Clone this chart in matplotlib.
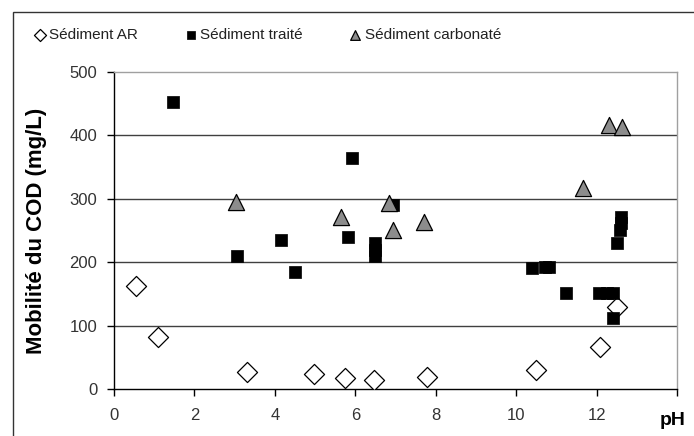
#!/usr/bin/env python3
"""COD mobility vs pH for the three sediment types (scatter, Excel-like look)."""
import matplotlib
matplotlib.use("Agg")
import matplotlib.pyplot as plt
from matplotlib.patches import Rectangle

plt.rcParams["font.family"] = ["Liberation Sans", "DejaVu Sans"]

# Sédiment AR (open diamonds)
ar_ph = [0.55, 1.10, 3.30, 4.97, 5.75, 6.46, 7.78, 10.49, 12.09, 12.50]
ar_cod = [163, 82, 27, 24, 17, 14, 19, 30, 66, 130]

# Sédiment traité (black squares)
tr_ph = [1.46, 5.91, 4.15, 5.83, 3.07, 4.49, 6.49, 6.49, 6.49, 6.95,
         10.39, 10.72, 10.82, 11.24, 12.07, 12.25, 12.40, 12.40,
         12.60, 12.60, 12.58, 12.50]
tr_cod = [453, 364, 235, 240, 210, 184, 230, 220, 210, 290,
          191, 193, 193, 151, 152, 152, 152, 112,
          272, 262, 250, 231]

# Sédiment carbonaté (grey triangles)
ca_ph = [3.03, 5.64, 6.84, 6.95, 7.72, 11.67, 12.32, 12.64]
ca_cod = [295, 272, 294, 250, 263, 317, 416, 413]

xticks = [0, 2, 4, 6, 8, 10, 12, 14]
xticklabels = ["0", "2", "4", "6", "8", "10", "12", ""]
yticks = [0, 100, 200, 300, 400, 500]

fig = plt.figure(figsize=(6.94, 4.36), dpi=100)
ax = fig.add_axes([114 / 694, 1 - 389 / 436, 563 / 694, 317 / 436])

# outer chart-area frame (runs off the right/bottom edge of the picture)
fig.add_artist(Rectangle((13 / 694, -0.2), 1.2, 1.2 - 12 / 436, transform=fig.transFigure,
                         fill=False, edgecolor="#333333", linewidth=1.0))

ax.scatter(ar_ph, ar_cod, marker="D", s=105, facecolor="white", edgecolor="black",
           linewidths=0.9, label="Sédiment AR", zorder=3)
ax.scatter(tr_ph, tr_cod, marker="s", s=78, facecolor="black", edgecolor="black",
           linewidths=0.5, label="Sédiment traité", zorder=4)
ax.scatter(ca_ph, ca_cod, marker="^", s=135, facecolor="#8c8c8c", edgecolor="black",
           linewidths=0.9, label="Sédiment carbonaté", zorder=5)

ax.set_xlim(0, 14); ax.set_ylim(0, 500)
ax.set_xticks(xticks); ax.set_xticklabels(xticklabels)
ax.set_yticks(yticks)
for y in yticks[1:-1]:
    ax.axhline(y, color="#404040", linewidth=1.0, zorder=1)

for side in ("left", "bottom"):
    ax.spines[side].set_color("black"); ax.spines[side].set_linewidth(1.0)
for side in ("top", "right"):
    ax.spines[side].set_color("#a0a0a0"); ax.spines[side].set_linewidth(1.0)

ax.tick_params(axis="x", direction="out", length=5, width=1, pad=9,
               labelsize=12, labelcolor="#333333")
ax.tick_params(axis="y", direction="out", length=5, width=1, pad=7,
               labelsize=12, labelcolor="#333333")

ax.set_ylabel("Mobilité du COD (mg/L)", fontsize=16, fontweight="bold", labelpad=16)
ax.text(0.993, -0.098, "pH", transform=ax.transAxes, ha="center", va="center",
        fontsize=14, fontweight="bold")

fig.legend(loc="center left", bbox_to_anchor=(34 / 694, 1 - 35 / 436), ncol=3,
           frameon=False, fontsize=11, markerscale=0.6, handlelength=0.8,
           handletextpad=0.2, columnspacing=3.05, borderpad=0, borderaxespad=0,
           labelcolor="#222222")

fig.savefig("out.png", dpi=100)
